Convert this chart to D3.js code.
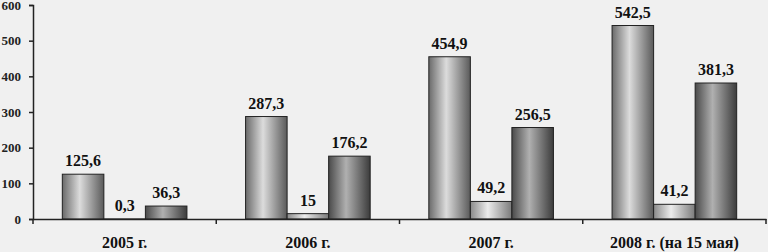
<!DOCTYPE html>
<html>
<head>
<meta charset="utf-8">
<script src="https://cdn.jsdelivr.net/npm/d3@7"></script>
<style>
  html, body { margin: 0; padding: 0; background: #f0f0f0; }
</style>
</head>
<body>
<div id="container"></div>
<script>
var width = 768, height = 252
var serif = '"Liberation Serif", "DejaVu Serif", serif'

// data
var categories = ['2005 г.', '2006 г.', '2007 г.', '2008 г. (на 15 мая)']
var series1 = [125.6, 287.3, 454.9, 542.5]
var series2 = [0.3, 15, 49.2, 41.2]
var series3 = [36.3, 176.2, 256.5, 381.3]
var yTicks = [0, 100, 200, 300, 400, 500, 600]
var seriesNames = ['s1', 's2', 's3']

var allSeries = [series1, series2, series3]

var svg = d3.select('#container').append('svg')
    .attr('width', width)
    .attr('height', height)

svg.append('rect')
    .attr('width', width)
    .attr('height', height)
    .attr('fill', '#f0f0f0')

// gradients (cylinder look)
var defs = svg.append('defs')
var grads = [
    ['#6a6a6a', '#dcdcdc', '#5a5a5a'],
    ['#8a8a8a', '#ececec', '#7a7a7a'],
    ['#4a4a4a', '#b0b0b0', '#3c3c3c']
]
grads.forEach(function (g, i) {
    var lg = defs.append('linearGradient')
        .attr('id', 'g' + i)
        .attr('x1', '0%').attr('x2', '100%')
        .attr('y1', '0%').attr('y2', '0%')
    lg.append('stop').attr('offset', '0%').attr('stop-color', g[0])
    lg.append('stop').attr('offset', '42%').attr('stop-color', g[1])
    lg.append('stop').attr('offset', '100%').attr('stop-color', g[2])
})

var x0 = d3.scaleBand()
    .domain(categories)
    .range([33, 766])
    .padding(0)

var groupW = x0.bandwidth() * 0.68
var x1 = d3.scaleBand()
    .domain(seriesNames)
    .range([(x0.bandwidth() - groupW) / 2, (x0.bandwidth() + groupW) / 2])
    .padding(0)

var y = d3.scaleLinear()
    .domain([0, 600])
    .range([219, 5])

// y axis
var yAxis = svg.append('g')
    .attr('transform', 'translate(33,0)')
    .call(d3.axisLeft(y).tickValues(yTicks).tickSize(4).tickPadding(8))
yAxis.attr('font-family', null)
yAxis.select('.domain').attr('stroke', '#222').attr('stroke-width', 1.5)
yAxis.selectAll('.tick line').attr('stroke', '#222').attr('stroke-width', 1.5)
yAxis.selectAll('.tick text')
    .style('font-family', serif)
    .style('font-weight', 'bold')
    .style('font-size', '13px')
    .attr('fill', '#222')

// bars
var groups = svg.selectAll('.grp')
    .data(categories)
    .enter().append('g')
    .attr('class', 'grp')
    .attr('transform', function (d) { return 'translate(' + x0(d) + ',0)' })

groups.each(function (cat, ci) {
    var g = d3.select(this)
    seriesNames.forEach(function (s, si) {
        var v = allSeries[si][ci]
        g.append('rect')
            .attr('x', x1(s))
            .attr('y', y(v))
            .attr('width', x1.bandwidth())
            .attr('height', y(0) - y(v))
            .attr('fill', 'url(#g' + si + ')')
            .attr('stroke', '#222')
            .attr('stroke-width', 1)
        g.append('text')
            .attr('x', x1(s) + x1.bandwidth() / 2)
            .attr('y', y(v) - 8)
            .attr('text-anchor', 'middle')
            .style('font-family', serif)
            .style('font-weight', 'bold')
            .style('font-size', '16px')
            .attr('fill', '#111')
            .text(String(v).replace('.', ','))
    })
})

// x axis
var xAxis = svg.append('g')
    .attr('transform', 'translate(0,219)')
    .call(d3.axisBottom(x0).tickSize(0).tickPadding(0).tickFormat(''))
xAxis.select('.domain').attr('stroke', '#222').attr('stroke-width', 1.5)
xAxis.selectAll('.tick').remove()

// boundary ticks
var bounds = categories.map(function (c) { return x0(c) }).concat([x0(categories[3]) + x0.bandwidth()])
svg.selectAll('.bt')
    .data(bounds)
    .enter().append('line')
    .attr('x1', function (d) { return d }).attr('x2', function (d) { return d })
    .attr('y1', 219).attr('y2', 224)
    .attr('stroke', '#222').attr('stroke-width', 1.5)

svg.selectAll('.cl')
    .data(categories)
    .enter().append('text')
    .attr('x', function (d) { return x0(d) + x0.bandwidth() / 2 })
    .attr('y', 248)
    .attr('text-anchor', 'middle')
    .style('font-family', serif)
    .style('font-weight', 'bold')
    .style('font-size', '16px')
    .attr('fill', '#111')
    .text(function (d) { return d })
</script>
</body>
</html>
